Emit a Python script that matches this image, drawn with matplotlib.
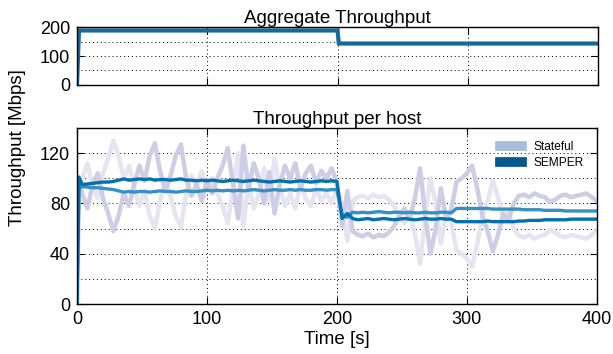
import matplotlib
matplotlib.use('Agg')
import matplotlib.pyplot as plt
from matplotlib.lines import Line2D
from matplotlib.ticker import MultipleLocator

plt.rcParams['font.family'] = ['Liberation Sans', 'DejaVu Sans']

# time samples [s]
t = [0, 1.5] + list(range(4, 401, 4))

# aggregate throughput [Mbps]
agg_time = [0, 1.5, 100, 200, 201, 300, 400]
agg_tput = [0, 188, 188, 188, 143, 143, 143]

# stateful hosts (two noisy traces)
stateful_a = [0, 100,
              88, 76, 95, 104, 84, 72, 58, 70, 88, 78,
              95, 110, 98, 118, 128, 105, 90, 102, 118, 127,
              100, 86, 95, 82, 98, 88, 100, 110, 124, 96,
              68, 126, 92, 112, 100, 80, 105, 72, 95, 110,
              100, 112, 92, 104, 110, 96, 106, 100, 108, 96,
              62, 90, 58, 55, 54, 56, 53, 55, 54, 57,
              62, 70, 76, 68, 84, 108, 70, 40, 60, 92,
              68, 75, 97, 100, 104, 110, 92, 70, 58, 42,
              55, 72, 66, 80, 86, 87, 85, 88, 86, 85,
              81, 83, 86, 87, 85, 86, 87, 88, 85, 82]
stateful_b = [0, 96,
              100, 112, 93, 84, 104, 116, 130, 118, 100, 110,
              93, 78, 90, 70, 60, 83, 98, 86, 70, 61,
              88, 102, 93, 106, 90, 100, 88, 78, 64, 92,
              120, 62, 96, 76, 88, 108, 83, 116, 93, 78,
              88, 76, 96, 84, 78, 92, 82, 88, 80, 92,
              78, 50, 82, 85, 86, 84, 87, 85, 86, 83,
              78, 70, 64, 72, 56, 32, 70, 100, 80, 48,
              72, 65, 43, 40, 36, 30, 48, 70, 82, 98,
              85, 68, 74, 60, 54, 53, 55, 52, 54, 55,
              59, 57, 54, 53, 55, 54, 53, 52, 55, 58]

# SEMPER hosts
semper_a = [0, 101,
            95, 95.5, 96, 96.5, 97, 97, 97.5, 98.5, 99.5, 98.5,
            99, 99.5, 99, 99.5, 98.5, 99, 99, 98.5, 99, 99.5,
            98.5, 98.5, 98, 98.5, 98, 98.5, 98, 97.5, 98, 98.5,
            98, 97.5, 98, 98.5, 98, 97.5, 97, 97.5, 98, 97.5,
            97, 97.5, 98, 97.5, 97, 97.5, 98, 97.5, 98, 97.5,
            68, 72, 68, 67, 67.5, 68, 67, 67.5, 68, 67.5,
            67, 67.5, 68, 67.5, 67, 67.5, 68, 67.5, 67.5, 68,
            67.5, 67.5, 65.5, 65.5, 65.5, 65.5, 65.5, 65.5, 66, 65.5,
            65.5, 65.5, 65.5, 65.5, 66, 66, 66.5, 66.5, 66.5, 67,
            67, 67, 67, 67, 67.5, 67.5, 67.5, 67.5, 67.5, 67.5]
semper_b = [0, 92,
            93.5, 93, 92.5, 92.5, 92, 91.5, 91, 90, 89, 89.5,
            89, 89.5, 89.5, 89, 89.5, 90, 89.5, 89.5, 89, 89.5,
            90, 89.5, 89.5, 90, 90.5, 90, 90.5, 90, 90.5, 90,
            90.5, 90, 90.5, 91, 90.5, 90, 90.5, 91, 90.5, 90.5,
            91, 90.5, 91, 90.5, 90.5, 91, 91, 90.5, 91, 91,
            71, 69, 73, 72.5, 73, 72.5, 73, 73.5, 73, 72.5,
            73, 73, 72.5, 73, 72.5, 72.5, 73, 72.5, 72.5, 73,
            73, 72.5, 76, 76, 76, 76, 76, 76, 76, 75.5,
            75.5, 75.5, 75.5, 75.5, 75.5, 75, 75, 75, 75, 74.5,
            74.5, 74.5, 74.5, 74, 74, 74, 74, 74, 74, 74]

fig = plt.figure(figsize=(6.13, 3.54), dpi=100)
ax1 = fig.add_axes([0.1256, 0.7599, 0.850, 0.1638])
ax2 = fig.add_axes([0.1256, 0.1412, 0.848, 0.4972])

# top: aggregate
ax1.plot(agg_time, agg_tput, color='#16679a', lw=3, solid_joinstyle='miter')
ax1.set_xlim(0, 400)
ax1.set_ylim(0, 200)
ax1.yaxis.set_major_locator(MultipleLocator(100))
ax1.yaxis.set_minor_locator(MultipleLocator(50))
ax1.xaxis.set_major_locator(MultipleLocator(100))
ax1.set_xticklabels([])
ax1.set_title('Aggregate Throughput', fontsize=13.5, pad=3)

# bottom: per host
ax2.plot(t, stateful_b, color='#e6e4f1', lw=3.2)
ax2.plot(t, stateful_a, color='#cdcee5', lw=3.2)
ax2.plot(t, semper_b, color='#3690c0', lw=2.4)
ax2.plot(t, semper_a, color='#0570b0', lw=2.4)
ax2.set_xlim(0, 400)
ax2.set_ylim(0, 140)
ax2.yaxis.set_major_locator(MultipleLocator(40))
ax2.yaxis.set_minor_locator(MultipleLocator(20))
ax2.xaxis.set_major_locator(MultipleLocator(100))
ax2.set_title('Throughput per host', fontsize=13.5, pad=3)
ax2.set_xlabel('Time [s]', fontsize=13.5, labelpad=2)

handles = [Line2D([], [], color='#a6bddb', lw=7),
           Line2D([], [], color='#045a8d', lw=7)]
ax2.legend(handles, ['Stateful', 'SEMPER'], loc='upper right', frameon=False,
           fontsize=8.6, handlelength=1.9, handletextpad=0.9, labelspacing=0.3,
           bbox_to_anchor=(0.995, 0.985))

for ax in (ax1, ax2):
    ax.grid(True, which='both', axis='y', color='black', linestyle=(0, (1, 3)), linewidth=0.7)
    ax.grid(True, which='major', axis='x', color='black', linestyle=(0, (1, 3)), linewidth=0.7)
    ax.tick_params(which='both', direction='in', top=True, right=True,
                   labelsize=13, pad=5)
    ax.tick_params(which='major', length=5)
    ax.tick_params(which='minor', length=0)
    for s in ax.spines.values():
        s.set_linewidth(1.0)
    ax.set_axisbelow(True)

fig.text(0.028, 0.582, 'Throughput [Mbps]', rotation=90, fontsize=13.5,
         ha='center', va='center')

fig.savefig('out.png', dpi=100)
